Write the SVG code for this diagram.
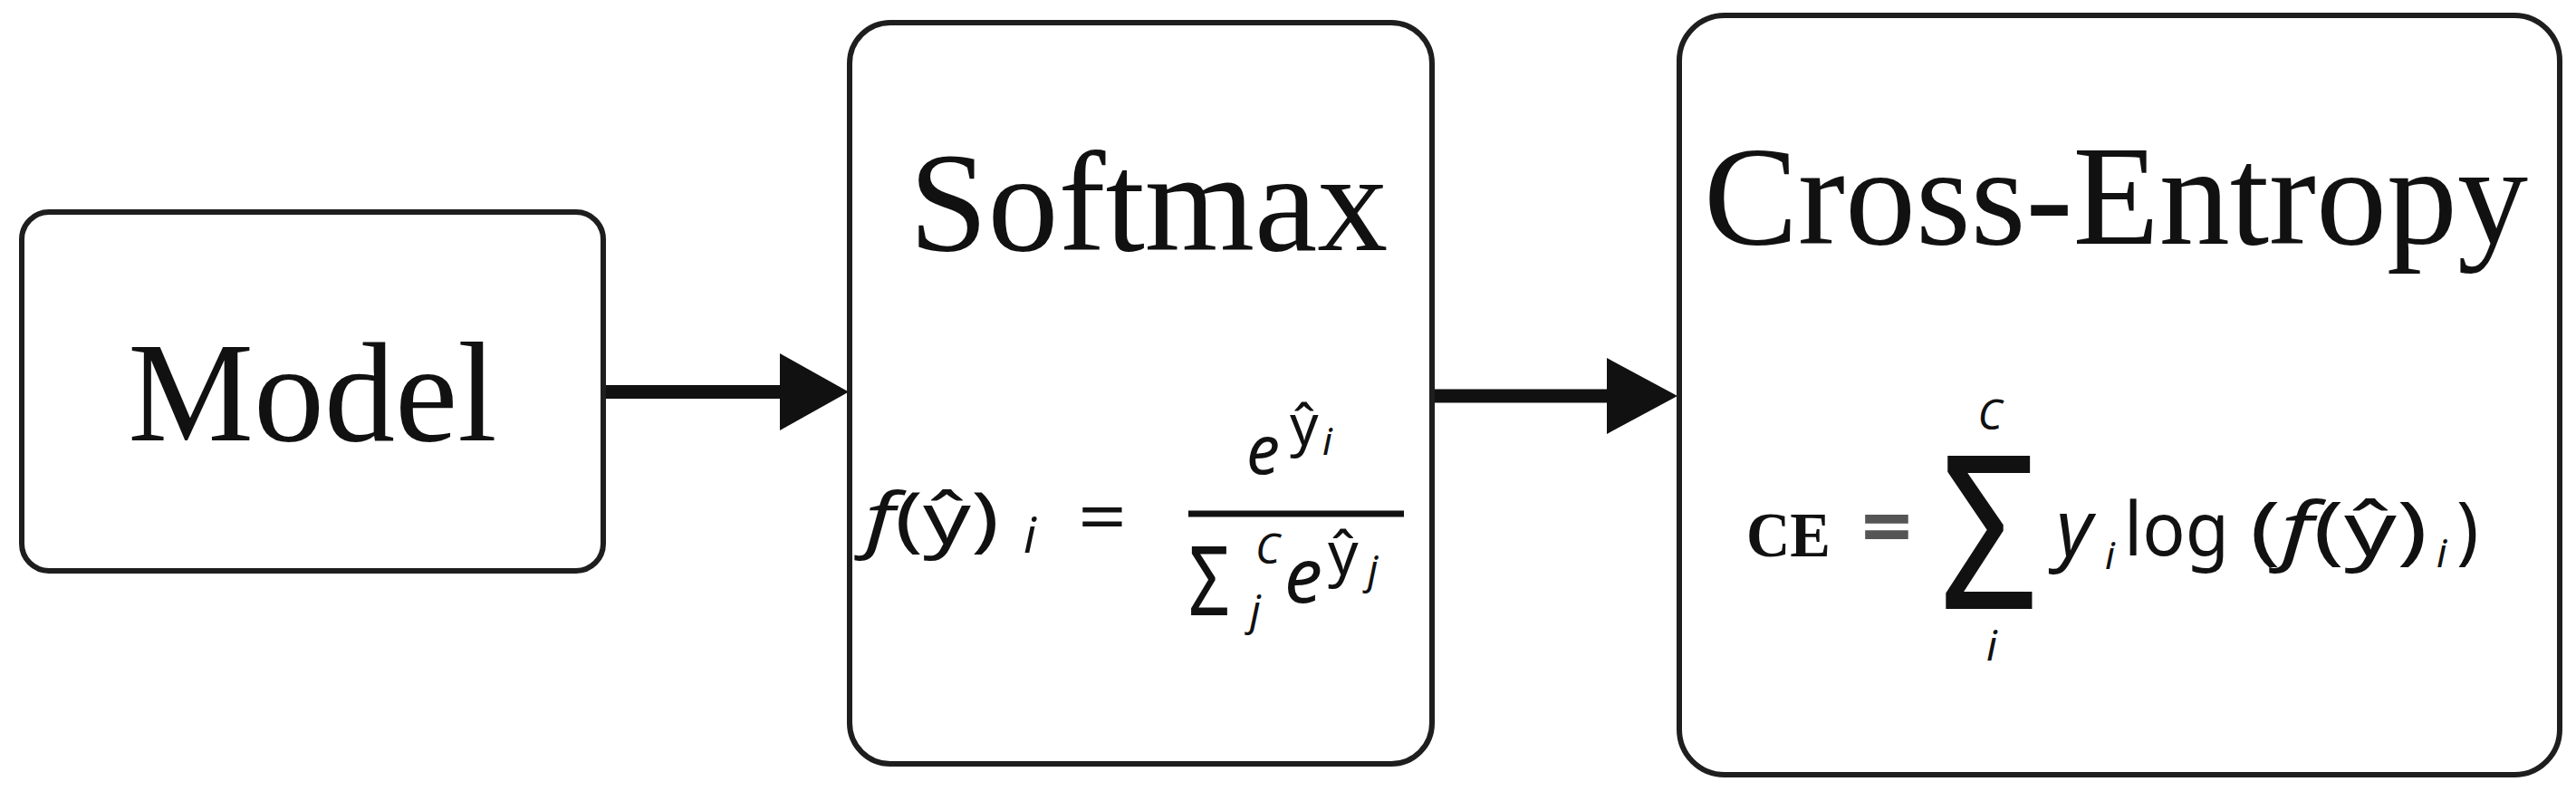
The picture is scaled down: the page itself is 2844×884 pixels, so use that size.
<svg xmlns="http://www.w3.org/2000/svg" width="2844" height="884" viewBox="0 0 2844 884">
<style>
.box{fill:#fff;stroke:#1e1e1e;stroke-width:6}
.title{font-family:"Liberation Serif","Times New Roman",serif;font-size:156px;fill:#111;text-anchor:middle}
.m{font-family:"Noto Sans","Open Sans",sans-serif;fill:#111}
.it{font-style:italic}
.conn{stroke:#111;stroke-width:15;fill:none}
.head{fill:#111}
</style>
<rect width="2844" height="884" fill="#fff"/>
<g id="connectors">
<line class="conn" x1="668" y1="432.5" x2="864" y2="432.5"/>
<polygon class="head" points="861,390 937,432.5 861,475"/>
<line class="conn" x1="1583" y1="437" x2="1777" y2="437"/>
<polygon class="head" points="1774,395 1852,437 1774,479"/>
</g>
<g id="model">
<rect class="box" x="24" y="234" width="642" height="396" rx="30"/>
<text class="title" x="345" y="486">Model</text>
</g>
<g id="softmax">
<rect class="box" x="938" y="25" width="643" height="818" rx="45"/>
<text class="title" x="1268" y="276">Softmax</text>
<text class="m" x="955" y="600" font-size="78" textLength="148" lengthAdjust="spacingAndGlyphs"><tspan class="it">f</tspan>(ŷ)</text>
<text class="m it" x="1130" y="610" font-size="54">i</text>
<text class="m" x="1190" y="598" font-size="76" textLength="54" lengthAdjust="spacingAndGlyphs">=</text>
<line x1="1312" y1="567" x2="1550" y2="567" stroke="#111" stroke-width="7"/>
<text class="m it" x="1376" y="523" font-size="74">e</text>
<text class="m" x="1424" y="491" font-size="62">ŷ</text>
<text class="m it" x="1460" y="502" font-size="42">i</text>
<text class="m" x="1312" y="679" font-size="106" textLength="46" lengthAdjust="spacingAndGlyphs">Σ</text>
<text class="m it" x="1386" y="622" font-size="46">C</text>
<text class="m it" x="1380" y="690" font-size="46">j</text>
<text class="m it" x="1418" y="665" font-size="84">e</text>
<text class="m" x="1466" y="634" font-size="66">ŷ</text>
<text class="m it" x="1510" y="644" font-size="44">j</text>
</g>
<g id="cross-entropy">
<rect class="box" x="1854" y="17" width="972" height="838" rx="50"/>
<text class="title" x="2336" y="269">Cross-Entropy</text>
<text x="1928" y="614" font-family="Liberation Serif,serif" font-weight="bold" font-size="70" fill="#111" textLength="93" lengthAdjust="spacingAndGlyphs">CE</text>
<text class="m" x="2055" y="614" font-size="92" font-weight="bold" style="fill:#555" textLength="56" lengthAdjust="spacingAndGlyphs">=</text>
<text class="m" x="2141" y="672" font-size="236" textLength="110" lengthAdjust="spacingAndGlyphs">Σ</text>
<text class="m it" x="2197" y="474" font-size="46" text-anchor="middle">C</text>
<text class="m it" x="2199" y="729" font-size="46" text-anchor="middle">i</text>
<text class="m it" x="2270" y="613" font-size="86">y</text>
<text class="m it" x="2324" y="628" font-size="42">i</text>
<text class="m" x="2345" y="613" font-size="82" textLength="116" lengthAdjust="spacingAndGlyphs">log</text>
<text class="m" x="2484" y="613" font-size="82" textLength="196" lengthAdjust="spacingAndGlyphs">(<tspan class="it">f</tspan>(ŷ)</text>
<text class="m it" x="2690" y="626" font-size="44">i</text>
<text class="m" x="2712" y="613" font-size="82">)</text>
</g>
</svg>
